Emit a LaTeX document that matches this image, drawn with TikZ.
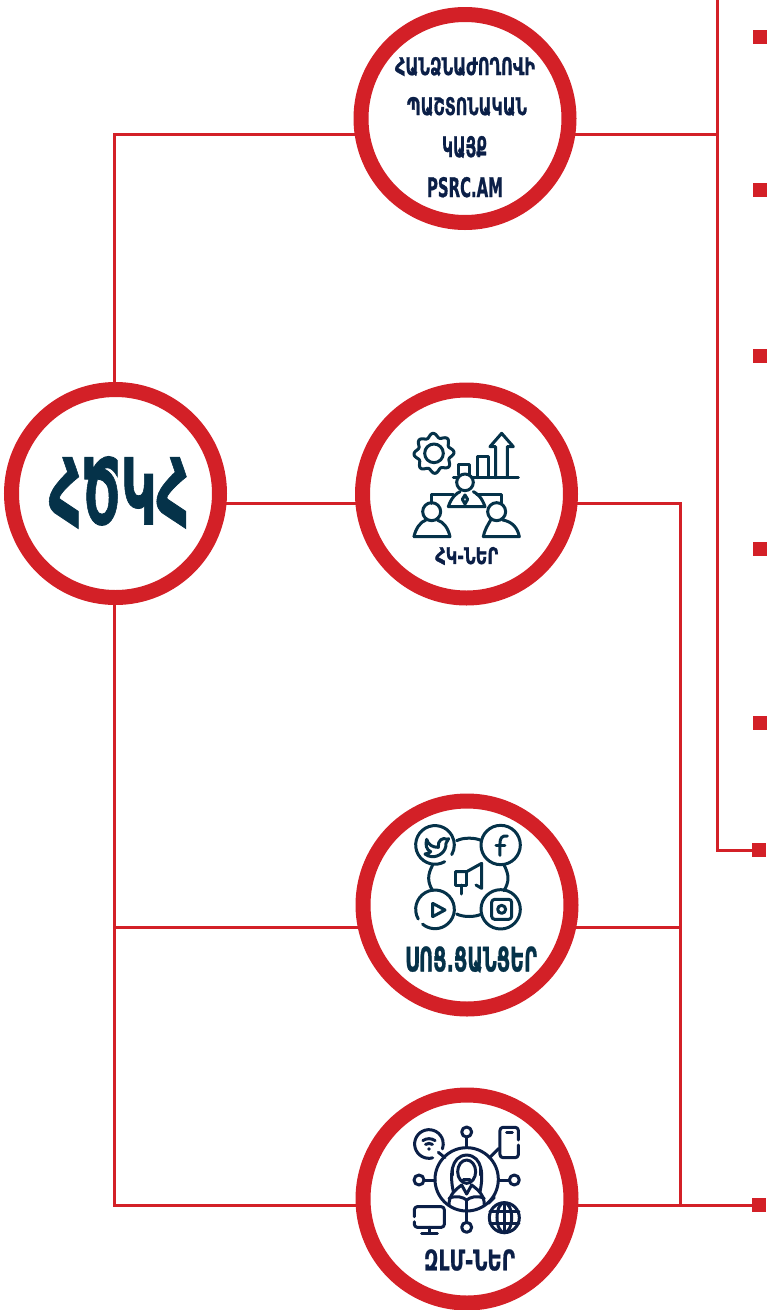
\documentclass[tikz,border=0pt]{standalone}
\usepackage{fontspec}
\usepackage{graphicx}
\usetikzlibrary{backgrounds}
\newfontfamily\armfont[Script=Armenian,BoldFeatures={FakeBold=1}]{DejaVu Sans}
\newcommand{\fitbox}[3]{\resizebox{#1pt}{#2pt}{\armfont\bfseries #3}}
\definecolor{ringred}{HTML}{D32027}
\definecolor{tealink}{HTML}{053249}
\definecolor{navyink}{HTML}{0B1F47}
\tikzset{
  ring/.style={circle,draw=ringred,fill=white,line width=15pt,minimum size=208pt,inner sep=0pt},
  link/.style={draw=ringred,line width=3pt},
  bullet/.style={rectangle,fill=ringred,minimum size=14pt,inner sep=0pt,outer sep=0pt},
  lab/.style={inner sep=0pt,outer sep=0pt,text=navyink},
  tlab/.style={inner sep=0pt,outer sep=0pt,text=tealink},
  icon/.style={draw=tealink,line width=3pt,line cap=round,line join=round},
  nicon/.style={draw=navyink,line width=3pt,line cap=round,line join=round},
}
\begin{document}
\begin{tikzpicture}[x=1pt,y=-1pt]
\useasboundingbox (0,0) rectangle (768,1310);
% rings
\node[ring] (hub)  at (115.5,493.5) {};
\node[ring] (site) at (465,118.5) {};
\node[ring] (ngo)  at (466.5,494) {};
\node[ring] (soc)  at (467,905) {};
\node[ring] (zlm)  at (467,1199) {};
% bullets
\node[bullet] (b1) at (760,37) {};
\node[bullet] (b2) at (760,190) {};
\node[bullet] (b3) at (760,356) {};
\node[bullet] (b4) at (760,549) {};
\node[bullet] (b5) at (760,723) {};
\node[bullet] (b6) at (759,850) {};
\node[bullet] (b7) at (759,1204.5) {};
% routing points
\coordinate (lt) at (114,134);
\coordinate (lb) at (114,1205);
\coordinate (lm) at (114,927);
\coordinate (rt) at (717,134);
\coordinate (rtop) at (717,0);
\coordinate (rbot) at (717,850);
\coordinate (ra) at (680,503);
\coordinate (rm) at (680,927);
\coordinate (rb) at (680,1205);
\begin{scope}[on background layer]
\draw[link,line cap=round] (hub.center -| lt) -- (lt) -- (site.center |- lt);
\draw[link] (hub.center |- ra) -- (ngo.center |- ra);
\draw[link] (hub.center -| lb) -- (lb) -- (zlm.center |- lb);
\draw[link] (lm) -- (soc.center |- lm);
\draw[link] (site.center |- rt) -- (rt);
\draw[link] (rtop) -- (rbot) -- (b6.west);
\draw[link] (ngo.center |- ra) -- (ra) -- (rb);
\draw[link] (soc.center |- rm) -- (rm);
\draw[link] (zlm.center |- rb) -- (b7.west |- rb);
\end{scope}
% labels
\node[tlab] (hubt) at (119,492.5) {\fitbox{140}{68}{ՀԾԿՀ}};
\node[lab,anchor=north] (s1) at (465,57) {\fitbox{140}{18}{ՀԱՆՁՆԱԺՈՂՈՎԻ}};
\node[lab,anchor=north] (s2) at (467,97) {\fitbox{120}{18}{ՊԱՇՏՈՆԱԿԱՆ}};
\node[lab,anchor=north] (s3) at (464.5,136) {\fitbox{45}{21}{ԿԱՅՔ}};
\node[lab,anchor=north] (s4) at (465,177) {\fitbox{76}{20}{PSRC.AM}};
\node[lab] (ngot) at (466.7,556) {\fitbox{63}{17}{ՀԿ-ՆԵՐ}};
\node[tlab] (soct) at (471,959.5) {\fitbox{132}{25}{ՍՈՑ.ՑԱՆՑԵՐ}};
\node[lab] (zlmt) at (469.5,1260) {\fitbox{91}{21}{ԶԼՄ-ՆԵՐ}};
% NGO icon (units: zoom px)
\begin{scope}[shift={(350,380)},x=.3333pt,y=-.3333pt,icon]
\draw plot[domain=0:360,samples=145,smooth] ({252+(54+6*cos(8*\x+22))*cos(\x)},{220+(54+6*cos(8*\x+22))*sin(\x)}) -- cycle;
\draw (252,220) circle (28);
\draw (310,293) -- (505,293);
\draw (327,285) -- (327,253) -- (360,253) -- (360,285);
\draw (382,293) -- (382,230) -- (415,230) -- (415,293);
\draw (437,293) -- (437,200) -- (420,200) -- (455,160) -- (490,200) -- (472,200) -- (472,293);
\draw[fill=white] (345,307) circle (25);
\draw (245,370) -- (245,345) -- (310,345);
\draw (380,345) -- (455,345) -- (455,370);
\draw (295,380) -- (405,380) .. controls (395,350) and (380,340) .. (370,335);
\draw (295,380) .. controls (305,350) and (320,340) .. (330,335);
\draw (345,345) -- (337,358) -- (345,372) -- (353,358) -- cycle;
\draw (245,395) circle (27);
\draw (440,395) circle (27);
\draw (192,470) -- (300,470) .. controls (295,445) and (280,425) .. (262,420);
\draw (192,470) .. controls (197,445) and (212,425) .. (228,420);
\draw (400,470) -- (508,470) .. controls (503,445) and (488,425) .. (458,420);
\draw (400,470) .. controls (405,445) and (420,425) .. (422,420);
\end{scope}
% social icon
\begin{scope}[shift={(410,820)},x=.3333pt,y=-.3333pt,icon]
\draw (104,125) arc (60:390:58);
\draw (272,75) circle (59);
\draw (24.8,297) arc (150:490:58);
\draw (272,268) circle (59);
\draw (140,62) .. controls (160,52) and (195,52) .. (215,62);
\draw (140,282) .. controls (160,292) and (195,292) .. (215,282);
\draw (68,135) .. controls (52,165) and (52,185) .. (68,212);
\draw (282,135) .. controls (298,165) and (298,185) .. (282,212);
% bird
\draw (50,58) .. controls (55,75) and (68,82) .. (85,82) .. controls (82,62) and (98,50) .. (112,58) -- (116,56) -- (108,70) .. controls (110,95) and (85,112) .. (65,110) .. controls (58,110) and (50,106) .. (45,102) .. controls (52,102) and (60,98) .. (62,95) .. controls (50,90) and (45,75) .. (50,58);
% f
\draw (292,48) .. controls (275,46) and (270,55) .. (270,70) -- (270,106);
\draw (258,76) -- (285,76);
% megaphone
\draw (138,155) -- (170,155) -- (215,130) -- (215,205) -- (198,195);
\draw (138,155) -- (138,195) -- (170,195) -- (170,155);
\draw (155,195) -- (155,222);
% play
\draw (68,250) -- (68,290) -- (105,270) -- cycle;
% insta
\draw[rounded corners=3pt] (245,238) rectangle (305,298);
\draw (275,268) circle (12);
\end{scope}
% ZLM icon
\begin{scope}[shift={(405,1120)},x=.3333pt,y=-.3333pt,nicon]
\draw (185,178) circle (95);
\draw (185,36) circle (15);
\draw (185,51) -- (185,83);
\draw (185,322) circle (15);
\draw (185,273) -- (185,307);
\draw (42,180) circle (15);
\draw (57,180) -- (90,180);
\draw (328,180) circle (15);
\draw (280,180) -- (313,180);
\draw (83,113.5) arc (75:380:43);
\draw (53.6,61.8) arc (235:305:32);
\draw (61.7,73.3) arc (235:305:18);
\fill[navyink] (72,87) circle (1.8pt);
\draw (100,97) -- (120,113);
\draw (255,112) -- (282,85);
\draw[rounded corners=3pt] (340,60) -- (340,22) -- (285,22) -- (285,113) -- (340,113) -- (340,75);
\draw (305,38) -- (322,38);
\draw[rounded corners=3pt] (28,290) -- (28,260) -- (118,260) -- (118,322) -- (28,322) -- (28,305);
\draw (73,322) -- (73,340);
\draw (50,340) -- (97,340);
\draw (298,293) circle (45);
\draw (298,293) ellipse (22 and 45);
\draw (255,275) -- (342,275);
\draw (255,310) -- (342,310);
\draw (298,248) -- (298,338);
\draw (250,250) -- (268,232);
% person
\draw (185,155) ellipse (27 and 35);
\draw (145,215) .. controls (135,170) and (135,108) .. (185,105) .. controls (235,108) and (235,170) .. (225,215);
\draw (142,145) -- (142,165);
\draw (228,145) -- (228,165);
\draw (175,177) -- (195,177);
\draw (132,255) .. controls (132,225) and (150,210) .. (170,195);
\draw (238,255) .. controls (238,225) and (220,210) .. (200,195);
\draw (170,195) -- (185,222) -- (200,195);
\draw (132,235) .. controls (155,225) and (175,232) .. (185,240) .. controls (195,232) and (215,225) .. (238,235);
\draw (185,240) -- (185,270);
\end{scope}
\end{tikzpicture}
\end{document}
